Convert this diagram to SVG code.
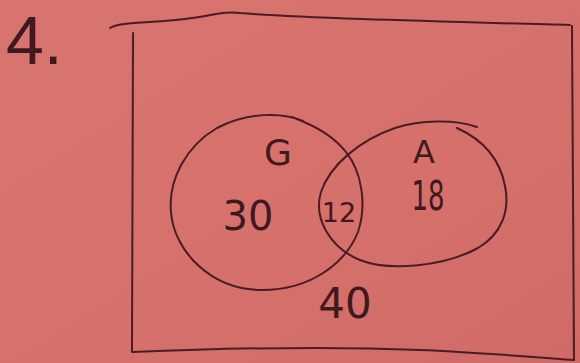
<svg xmlns="http://www.w3.org/2000/svg" width="580" height="363" viewBox="0 0 580 363">
  <defs>
    <linearGradient id="paper" x1="0" y1="0" x2="1" y2="1">
      <stop offset="0" stop-color="#d8746f"/>
      <stop offset="0.6" stop-color="#d6706b"/>
      <stop offset="1" stop-color="#cf6a66"/>
    </linearGradient>
  </defs>
  <style>
    .ink { fill: none; stroke: #4b1c24; stroke-width: 2; stroke-linecap: round; stroke-linejoin: round; }
    .lbl { fill: #3f1820; font-family: "DejaVu Sans", "Liberation Sans", sans-serif; font-weight: normal; text-anchor: middle; }
  </style>
  <rect width="580" height="363" fill="url(#paper)"/>
  <text x="6" y="64" font-size="68" fill="#3f1820" style="font-family:'Liberation Sans',sans-serif">4.</text>
  <g id="universe">
    <path class="ink" d="M110,28 C118,22 150,23 185,19 C215,15 225,11 240,13 C300,18 420,21 570,25 M572,26 L574,360 C520,356 470,352 420,350 C330,346 230,348 132,352 M133,33 L132,352"/>
    <text class="lbl" x="345" y="318" font-size="42">40</text>
  </g>
  <g id="set-G">
    <path class="ink" d="M303,121 C282,112 248,112 217,128 C186,146 168,180 171,212 C174,252 212,290 262,290 C312,290 346,262 358,232 C367,205 362,172 346,152 C334,137 318,127 292,117"/>
    <text class="lbl" x="278" y="165" font-size="36">G</text>
    <text class="lbl" x="248" y="230" font-size="40">30</text>
  </g>
  <g id="set-A">
    <path class="ink" d="M477,127 C455,119 420,120 395,128 C360,140 330,165 321,192 C313,218 330,248 360,260 C390,272 445,266 478,248 C502,234 510,210 505,186 C501,165 488,142 457,128"/>
    <text class="lbl" x="424" y="163" font-size="32">A</text>
    <text class="lbl" x="428" y="210" font-size="40" textLength="33" lengthAdjust="spacingAndGlyphs">18</text>
  </g>
  <g id="intersection">
    <text class="lbl" x="339" y="222" font-size="27">12</text>
  </g>
  <g id="connectors"/>
</svg>
